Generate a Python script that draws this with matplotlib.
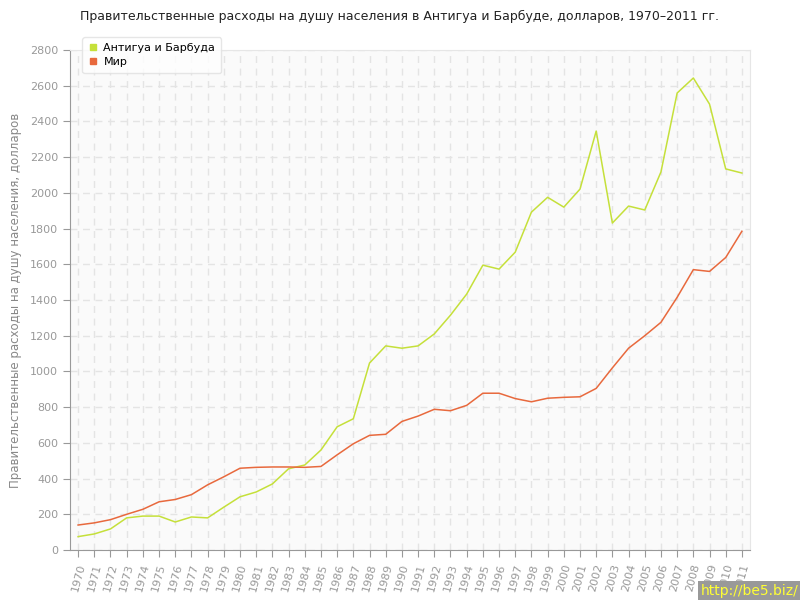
import matplotlib
matplotlib.use("Agg")
import matplotlib.pyplot as plt
from matplotlib.lines import Line2D

years = list(range(1970, 2012))
antigua = [75, 90, 118, 180, 190, 190, 157, 185, 180, 240,
           298, 325, 370, 455, 476, 560, 690, 735, 1047, 1143,
           1130, 1143, 1210, 1315, 1433, 1595, 1573, 1668, 1892, 1975,
           1920, 2021, 2346, 1831, 1926, 1904, 2117, 2559, 2643, 2497,
           2134, 2111]
world = [140, 152, 170, 200, 228, 270, 283, 310, 365, 410,
         458, 463, 465, 465, 463, 468, 533, 595, 642, 648,
         720, 750, 788, 780, 810, 878, 878, 848, 830, 850,
         855, 858, 905, 1020, 1130, 1200, 1275, 1415, 1570, 1560,
         1638, 1785]

green = '#c5e03a'
orange = '#e8693d'
grey = '#999999'

fig = plt.figure(figsize=(8, 6), dpi=100)
ax = fig.add_axes([0.0875, 0.0833, 0.85, 0.8334])
ax.set_facecolor('#fafafa')

ax.plot(years, antigua, color=green, lw=1.1)
ax.plot(years, world, color=orange, lw=1.1)

ax.set_xlim(1969.5, 2011.5)
ax.set_ylim(0, 2800)
ax.set_xticks(years)
ax.set_xticklabels([str(y) for y in years], rotation=75, fontsize=8, color=grey)
ax.set_yticks(range(0, 2801, 200))
ax.tick_params(axis='y', labelsize=8, labelcolor=grey, color=grey, length=5)
ax.tick_params(axis='x', color=grey, length=5, pad=4)
ax.grid(True, color='#e4e4e4', ls=(0, (5, 4)), lw=1)
ax.set_axisbelow(True)

for s in ['top', 'right']:
    ax.spines[s].set_color('#e6e6e6')
for s in ['left', 'bottom']:
    ax.spines[s].set_color(grey)

ax.set_ylabel('Правительственные расходы на душу населения, долларов',
              fontsize=8.5, color='#888888', labelpad=6)
fig.text(0.5, 0.972, 'Правительственные расходы на душу населения в Антигуа и Барбуде, долларов, 1970–2011 гг.',
         ha='center', va='center', fontsize=9, color='#222222')

handles = [Line2D([], [], ls='none', marker='s', ms=4, color=green),
           Line2D([], [], ls='none', marker='s', ms=4, color=orange)]
leg = fig.legend(handles, ['Антигуа и Барбуда', 'Мир'], loc='upper left',
                 bbox_to_anchor=(0.096, 0.947), fontsize=8, frameon=True,
                 fancybox=True, shadow=False, handletextpad=0.4,
                 borderpad=0.5, labelspacing=0.4, handlelength=1)
leg.get_frame().set_edgecolor('#e0e0e0')
leg.get_frame().set_facecolor('white')

fig.text(0.998, 0.003, 'http://be5.biz/', ha='right', va='bottom', fontsize=10,
         color='#ffff33', bbox=dict(facecolor='#999999', edgecolor='none', pad=2))

fig.savefig('out.png', dpi=100)
